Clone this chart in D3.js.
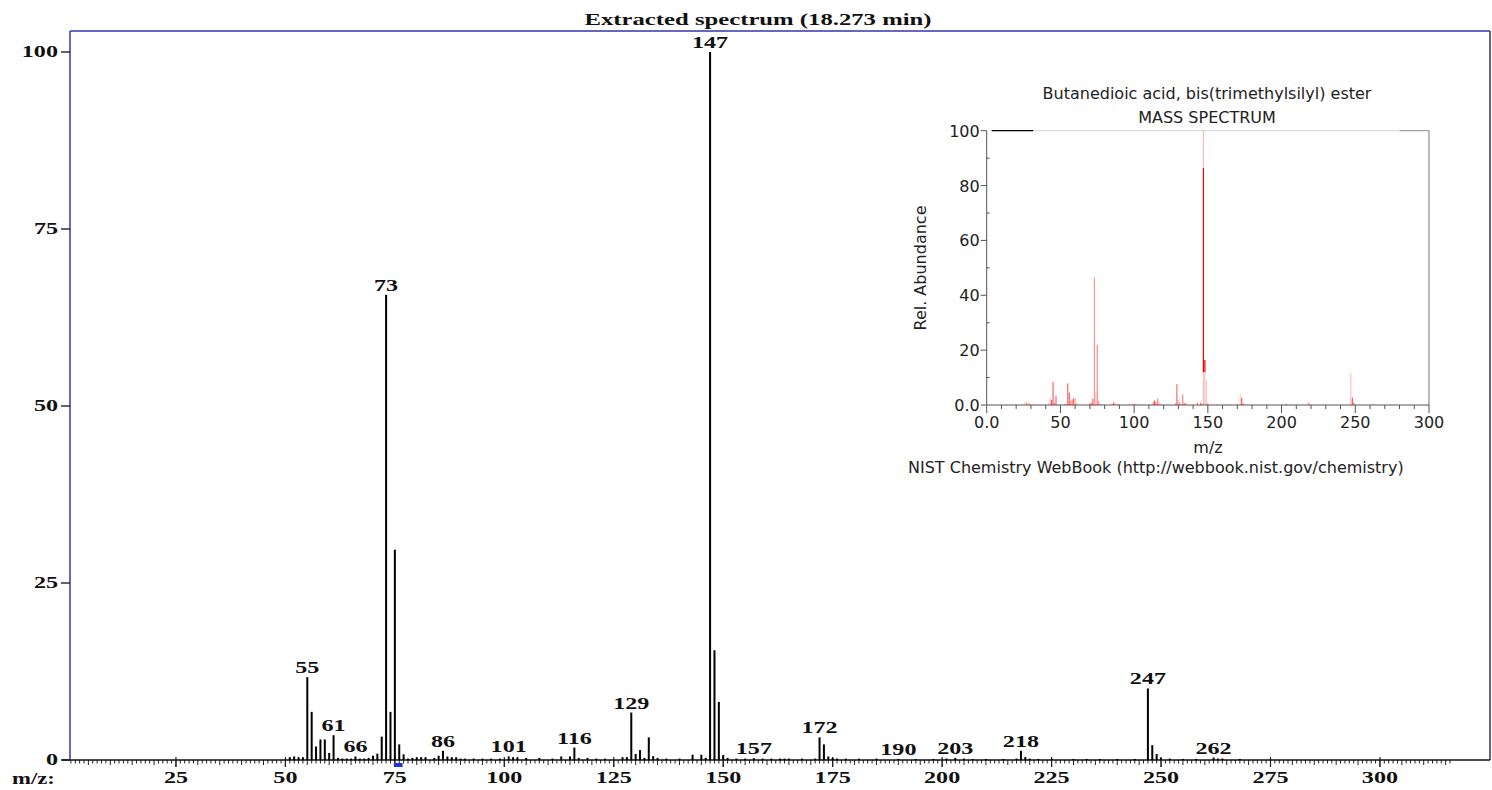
<!DOCTYPE html>
<html><head><meta charset="utf-8">
<script src="https://cdn.jsdelivr.net/npm/d3@7/dist/d3.min.js"></script>
<style>body{margin:0;background:#fff}svg{display:block}</style>
</head><body>
<svg id="c" width="1492" height="790"></svg>
<script>
// ---------- main spectrum data ----------
const mainTitle = "Extracted spectrum (18.273 min)";
const mainMz = [51,52,53,54,55,56,57,58,59,60,61,62,63,64,65,66,67,68,69,70,71,72,73,74,75,76,77,78,79,80,81,82,84,85,86,87,88,89,90,91,93,95,97,99,101,102,103,105,108,111,113,115,116,117,119,121,123,127,128,129,130,131,132,133,134,135,137,140,143,145,146,147,148,149,150,151,153,155,157,159,161,163,164,165,168,171,172,173,174,175,176,178,181,185,190,194,198,201,203,205,207,210,214,217,218,219,220,222,225,230,233,236,240,244,247,248,249,250,252,255,258,262,263,264,268];
const mainInt = [0.4,0.5,0.4,0.4,11.7,6.8,1.9,2.9,2.9,1.0,3.5,0.3,0.2,0.2,0.2,0.5,0.2,0.2,0.3,0.6,0.9,3.3,65.7,6.8,29.7,2.2,0.8,0.2,0.3,0.4,0.4,0.4,0.3,0.6,1.3,0.5,0.4,0.4,0.2,0.2,0.2,0.2,0.2,0.2,0.5,0.4,0.4,0.3,0.3,0.2,0.5,0.5,1.75,0.3,0.3,0.2,0.2,0.4,0.4,6.7,0.85,1.4,0.3,3.2,0.55,0.3,0.2,0.2,0.75,0.75,0.3,100,15.5,8.2,0.7,0.3,0.2,0.2,0.25,0.2,0.2,0.2,0.2,0.2,0.2,0.2,3.2,2.2,0.5,0.3,0.2,0.2,0.2,0.2,0.15,0.15,0.15,0.2,0.3,0.2,0.15,0.15,0.15,0.2,1.3,0.4,0.2,0.15,0.15,0.15,0.15,0.15,0.15,0.15,10.1,2.1,0.85,0.3,0.2,0.15,0.15,0.35,0.2,0.2,0.15];
const peakLabels = [55,61,66,73,86,101,116,129,147,157,172,190,203,218,247,262];
const mainYTicks = [0,25,50,75,100];
const mainXTicks = [25,50,75,100,125,150,175,200,225,250,275,300];
const selRange = [75,77];

// ---------- inset (NIST reference) data ----------
const insetTitle1 = "Butanedioic acid, bis(trimethylsilyl) ester";
const insetTitle2 = "MASS SPECTRUM";
const insetMz =    [26,27,28,29,31,42,43,44,45,46,47,48,53,54,55,56,57,58,59,60,61,70,71,72,73,74,75,76,77,85,86,87,89,97,99,100,101,103,113,114,115,116,117,118,128,129,130,131,133,134,135,143,145,146,147,148,149,150,156,163,172,173,174,190,203,218,219,247,248,249,262];
const insetInt =   [1.1,0.8,0.9,0.5,0.3,0.8,2.7,1.8,8.4,0.8,3.4,0.3,0.5,0.4,7.9,4.5,1.5,2.0,2.5,2.5,0.6,0.7,0.8,2.3,46.4,4.9,21.9,1.5,0.5,0.4,1.0,0.7,0.4,0.5,0.5,0.5,0.4,0.4,1.1,1.6,1.0,2.3,1.2,0.4,0.8,7.6,1.8,1.0,3.8,0.8,0.8,0.8,0.8,0.6,100,12,9.1,0.8,0.3,0.3,4.0,2.6,0.6,0.3,0.5,1.3,0.6,11.6,2.7,1.0,0.5];
const insetAlpha = [0.25,0.4,0.3,0.5,0.3,0.2,0.3,0.8,0.75,0.6,0.7,0.3,0.4,0.4,0.7,0.75,0.5,0.6,0.7,0.4,0.5,0.6,0.6,0.7,0.5,0.25,0.55,0.5,0.4,0.4,0.6,0.5,0.4,0.3,0.4,0.4,0.4,0.4,0.6,0.95,0.4,0.6,0.3,0.4,0.4,0.7,0.3,0.6,0.6,0.5,0.5,0.6,0.6,0.5,0.3,0.3,0.25,0.5,0.4,0.4,0.25,0.8,0.6,0.4,0.6,0.3,0.5,0.3,0.75,0.6,0.4];
// bright overdrawn segments [m/z, from, to]
const insetStrong = [[147,12,86.4],[148,12,16.4]];
const insetYTicks = [0,20,40,60,80,100];
const insetXTicks = [0,50,100,150,200,250,300];
const insetXLabel = "m/z";
const insetYLabel = "Rel. Abundance";
const insetCredit = "NIST Chemistry WebBook (http://webbook.nist.gov/chemistry)";

const svg = d3.select("#c");
const SX = 1.42;
const serif = "'Liberation Serif','Times New Roman',serif";
function stext(g, x, y, s, anchor, size){
  return g.append("text")
    .attr("transform", `translate(${x},${y}) scale(${SX},1)`)
    .attr("text-anchor", anchor || "middle")
    .attr("font-family", serif).attr("font-weight", "bold")
    .attr("font-size", size || 17).attr("fill", "#111").text(s);
}

// ---------- main chart ----------
const x = d3.scaleLinear().domain([0.8, 325]).range([70, 1489.4]);
const y = d3.scaleLinear().domain([0, 100]).range([760, 52]);
const base = y(0);

const axisBlue = "#3434a8";
// frame
svg.append("line").attr("x1",70).attr("x2",1490).attr("y1",31).attr("y2",31).attr("stroke",axisBlue).attr("stroke-width",1.5);
svg.append("line").attr("x1",1490).attr("x2",1490).attr("y1",31).attr("y2",base).attr("stroke","#333355").attr("stroke-width",1.5);

// minor ticks
const minor = d3.range(1, 317);
const gx = svg.append("g");
gx.selectAll("line.mt").data(minor).join("line")
  .attr("x1", d => x(d)).attr("x2", d => x(d))
  .attr("y1", base).attr("y2", d => base + (d % 25 === 0 ? 7 : d % 5 === 0 ? 5 : 3.5))
  .attr("stroke", "#222").attr("stroke-width", 1);
gx.selectAll("line.Mt").data(mainXTicks).join("line")
  .attr("x1", d => x(d)).attr("x2", d => x(d)).attr("y1", base - 3).attr("y2", base + 7)
  .attr("stroke", "#222").attr("stroke-width", 1.2);
mainXTicks.forEach(t => stext(svg, x(t), 783, String(t)));
stext(svg, 12, 784, "m/z:", "start", 16);

// selection marker
svg.append("rect").attr("x", x(selRange[0]) - 1).attr("width", x(selRange[1]) - x(selRange[0]))
  .attr("y", base + 3).attr("height", 4).attr("fill", "#2233dd");

// baseline
svg.append("line").attr("x1",62).attr("x2",1490).attr("y1",base).attr("y2",base).attr("stroke","#111").attr("stroke-width",1.5);
// left axis
svg.append("line").attr("x1",70).attr("x2",70).attr("y1",31).attr("y2",base+1).attr("stroke",axisBlue).attr("stroke-width",1.5);
mainYTicks.forEach(t => {
  svg.append("line").attr("x1",61).attr("x2",70).attr("y1",y(t)).attr("y2",y(t)).attr("stroke","#111").attr("stroke-width",1.3);
  stext(svg, 58, y(t) + 5, String(t), "end");
});

// bars
const mainData = mainMz.map((m, i) => ({m, v: mainInt[i]}));
svg.append("g").selectAll("rect").data(mainData).join("rect")
  .attr("x", d => x(d.m) - 1).attr("width", 2)
  .attr("y", d => y(d.v)).attr("height", d => base - y(d.v))
  .attr("fill", "#000");

// peak labels
peakLabels.forEach(m => {
  const d = mainData.find(e => e.m === m);
  stext(svg, x(m), y(d.v) - 4, String(m));
});

stext(svg, 758, 25, mainTitle, "middle", 17.4);

// ---------- inset ----------
const xi = d3.scaleLinear().domain([0, 300]).range([986.7, 1429]);
const yi = d3.scaleLinear().domain([0, 100]).range([405, 130.7]);
const sans = "'DejaVu Sans', sans-serif";
const FS = 16;
const ig = svg.append("g");
const ax = "#555";

// frame
ig.append("line").attr("x1", xi(0)).attr("x2", xi(300)).attr("y1", yi(0)).attr("y2", yi(0)).attr("stroke", ax);
ig.append("line").attr("x1", xi(0)).attr("x2", xi(0)).attr("y1", yi(0)).attr("y2", yi(100)).attr("stroke", ax);
ig.append("line").attr("x1", xi(300)).attr("x2", xi(300)).attr("y1", yi(0)).attr("y2", yi(100)).attr("stroke", "#777");
ig.append("line").attr("x1", xi(3)).attr("x2", xi(280)).attr("y1", yi(100)).attr("y2", yi(100)).attr("stroke", "#ddd").attr("stroke-width", 1.2);
ig.append("line").attr("x1", xi(3.4)).attr("x2", xi(31.5)).attr("y1", yi(100)).attr("y2", yi(100)).attr("stroke", "#000").attr("stroke-width", 1.2);
ig.append("line").attr("x1", xi(280)).attr("x2", xi(300)).attr("y1", yi(100)).attr("y2", yi(100)).attr("stroke", "#888").attr("stroke-width", 1);

// x ticks
ig.selectAll("line.ixt").data(d3.range(0, 301, 10)).join("line")
  .attr("x1", d => xi(d)).attr("x2", d => xi(d)).attr("y1", yi(0))
  .attr("y2", d => yi(0) + (d % 50 === 0 ? 8 : 4)).attr("stroke", ax);
insetXTicks.forEach(t => ig.append("text").attr("x", xi(t)).attr("y", 428).attr("text-anchor", "middle")
  .attr("font-family", sans).attr("font-size", FS).attr("fill", "#222").text(t === 0 ? "0.0" : String(t)));
// y ticks
ig.selectAll("line.iyt").data(d3.range(0, 101, 10)).join("line")
  .attr("x1", d => d % 20 === 0 ? xi(0) - 6 : xi(0)).attr("x2", d => d % 20 === 0 ? xi(0) : xi(0) + 3)
  .attr("y1", d => yi(d)).attr("y2", d => yi(d)).attr("stroke", ax);
insetYTicks.forEach(t => ig.append("text").attr("x", xi(0) - 7).attr("y", yi(t) + 6).attr("text-anchor", "end")
  .attr("font-family", sans).attr("font-size", FS).attr("fill", "#222").text(t === 0 ? "0.0" : String(t)));

// bars
const insetData = insetMz.map((m, i) => ({m, v: insetInt[i], a: insetAlpha[i]}));
ig.append("g").selectAll("rect").data(insetData).join("rect")
  .attr("x", d => xi(d.m) - 0.5).attr("width", 1)
  .attr("y", d => yi(d.v)).attr("height", d => yi(0) - yi(d.v))
  .attr("fill", "#ff0000").attr("fill-opacity", d => d.a);
ig.append("g").selectAll("rect").data(insetStrong).join("rect")
  .attr("x", d => xi(d[0]) - 0.6).attr("width", 1.2)
  .attr("y", d => yi(d[2])).attr("height", d => yi(d[1]) - yi(d[2]))
  .attr("fill", "#ee0000");

// labels
ig.append("text").attr("x", 1207).attr("y", 99).attr("text-anchor", "middle").attr("font-family", sans).attr("font-size", FS).attr("fill", "#222").text(insetTitle1);
ig.append("text").attr("x", 1207).attr("y", 123).attr("text-anchor", "middle").attr("font-family", sans).attr("font-size", FS).attr("fill", "#222").text(insetTitle2);
ig.append("text").attr("x", 1208).attr("y", 453).attr("text-anchor", "middle").attr("font-family", sans).attr("font-size", FS).attr("fill", "#222").text(insetXLabel);
ig.append("text").attr("x", 908).attr("y", 473).attr("text-anchor", "start").attr("font-family", sans).attr("font-size", FS).attr("fill", "#222").text(insetCredit);
ig.append("text").attr("transform", "translate(926,268) rotate(-90)").attr("text-anchor", "middle").attr("font-family", sans).attr("font-size", FS).attr("fill", "#222").text(insetYLabel);
</script>
</body></html>
